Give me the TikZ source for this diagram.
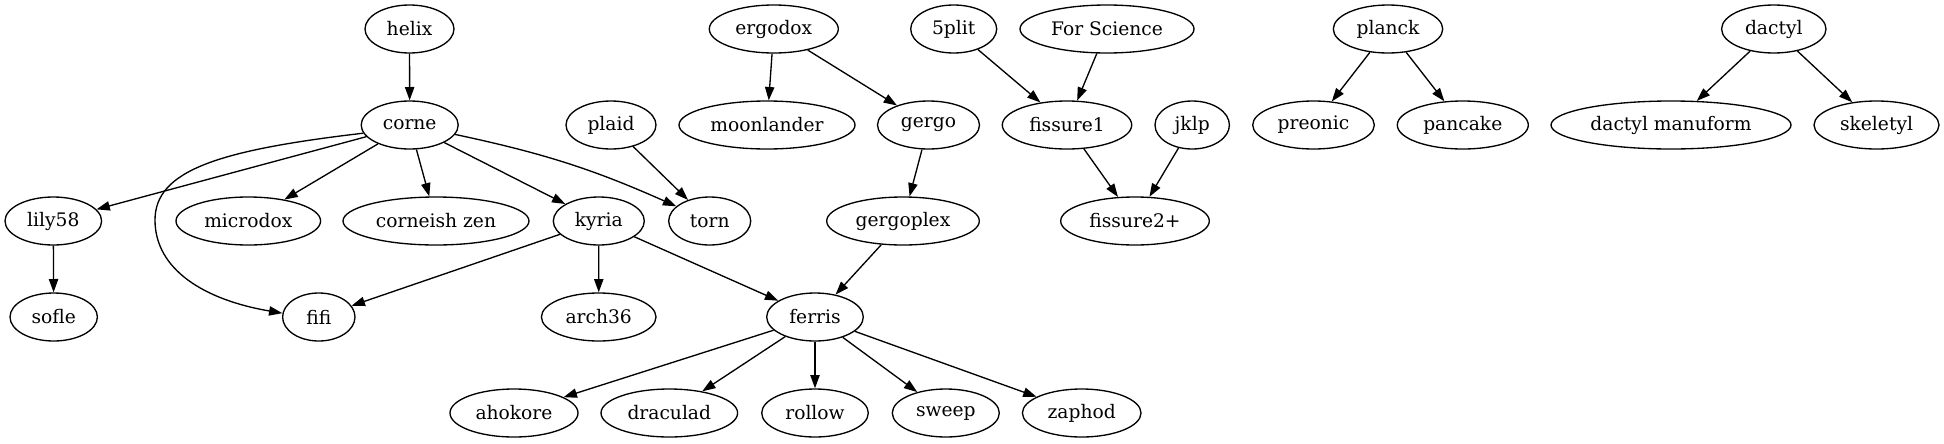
\documentclass[tikz,border=0pt]{standalone}
\usepackage{fontspec}
\setmainfont{DejaVu Serif}
\usetikzlibrary{shapes.geometric,arrows.meta}
\begin{document}
\begin{tikzpicture}[x=0.75pt,y=-0.75pt,
  gvnode/.style={ellipse,draw,line width=1pt,inner sep=0pt,minimum height=36pt,font=\fontsize{14}{16}\selectfont},
  gvedge/.style={draw,line width=1pt,-{Triangle[length=10pt,width=7pt]}}]
\useasboundingbox (0,0) rectangle (1944,443);
\newcommand{\gvn}[5]{\node[gvnode,minimum width={1.5*#4pt}] (#1) at (#2,#3) {#5};}
\gvn{helix}{409.5}{29}{44.5}{helix}
\gvn{corne}{409.7}{125}{48.5}{corne}
\gvn{lily58}{53.3}{221}{48.3}{lily58}
\gvn{microdox}{248.3}{221}{72.3}{microdox}
\gvn{czen}{436}{221}{93}{corneish zen}
\gvn{kyria}{598.8}{221}{45.5}{kyria}
\gvn{torn}{709.7}{221}{41}{torn}
\gvn{plaid}{611}{125}{45}{plaid}
\gvn{ergodox}{773.8}{29}{64.5}{ergodox}
\gvn{moonlander}{767}{125}{88}{moonlander}
\gvn{gergo}{928.5}{125}{51}{gergo}
\gvn{gergoplex}{903}{221}{76.3}{gergoplex}
\gvn{sofle}{53.7}{317}{43.7}{sofle}
\gvn{fifi}{318.8}{317}{36.2}{fifi}
\gvn{arch36}{598.7}{317}{57.3}{arch36}
\gvn{ferris}{815}{317}{48.3}{ferris}
\gvn{ahokore}{514}{413}{64}{ahokore}
\gvn{draculad}{669.3}{413}{68.3}{draculad}
\gvn{rollow}{815}{413}{53.3}{rollow}
\gvn{sweep}{945.8}{413}{53.5}{sweep}
\gvn{zaphod}{1081.7}{413}{59.3}{zaphod}
\gvn{fivesplit}{953.7}{29}{43}{5plit}
\gvn{forscience}{1107}{29}{87}{For Science}
\gvn{fissure1}{1067}{125}{64.7}{fissure1}
\gvn{jklp}{1192.2}{125}{37.2}{jklp}
\gvn{fissure2}{1135}{221}{74.3}{fissure2+}
\gvn{planck}{1388}{29}{54.7}{planck}
\gvn{preonic}{1313.5}{125}{60.8}{preonic}
\gvn{pancake}{1462.8}{125}{65.5}{pancake}
\gvn{dactyl}{1773.8}{29}{52.2}{dactyl}
\gvn{manuform}{1671}{125}{120}{dactyl manuform}
\gvn{skeletyl}{1876.5}{125}{62.5}{skeletyl}
\coordinate (cfbend) at (155,220);
\draw[gvedge] (helix) -- (corne);
\draw[gvedge] (corne) -- (lily58);
\draw[gvedge] (corne.190) .. controls (220,150) and (155,170) .. (cfbend) .. controls (155,270) and (205,300) .. (fifi.174);
\draw[gvedge] (corne) -- (microdox);
\draw[gvedge] (corne) -- (czen);
\draw[gvedge] (corne) -- (kyria);
\draw[gvedge] (corne) to[bend left=6] (torn);
\draw[gvedge] (plaid) -- (torn);
\draw[gvedge] (lily58) -- (sofle);
\draw[gvedge] (kyria) -- (fifi);
\draw[gvedge] (kyria) -- (arch36);
\draw[gvedge] (kyria) -- (ferris);
\draw[gvedge] (ergodox) -- (moonlander);
\draw[gvedge] (ergodox) -- (gergo);
\draw[gvedge] (gergo) -- (gergoplex);
\draw[gvedge] (gergoplex) -- (ferris);
\draw[gvedge] (ferris) -- (ahokore);
\draw[gvedge] (ferris) -- (draculad);
\draw[gvedge] (ferris) -- (rollow);
\draw[gvedge] (ferris) -- (sweep);
\draw[gvedge] (ferris) -- (zaphod);
\draw[gvedge] (fivesplit) -- (fissure1);
\draw[gvedge] (forscience) -- (fissure1);
\draw[gvedge] (fissure1) -- (fissure2);
\draw[gvedge] (jklp) -- (fissure2);
\draw[gvedge] (planck) -- (preonic);
\draw[gvedge] (planck) -- (pancake);
\draw[gvedge] (dactyl) -- (manuform);
\draw[gvedge] (dactyl) -- (skeletyl);
\end{tikzpicture}
\end{document}
